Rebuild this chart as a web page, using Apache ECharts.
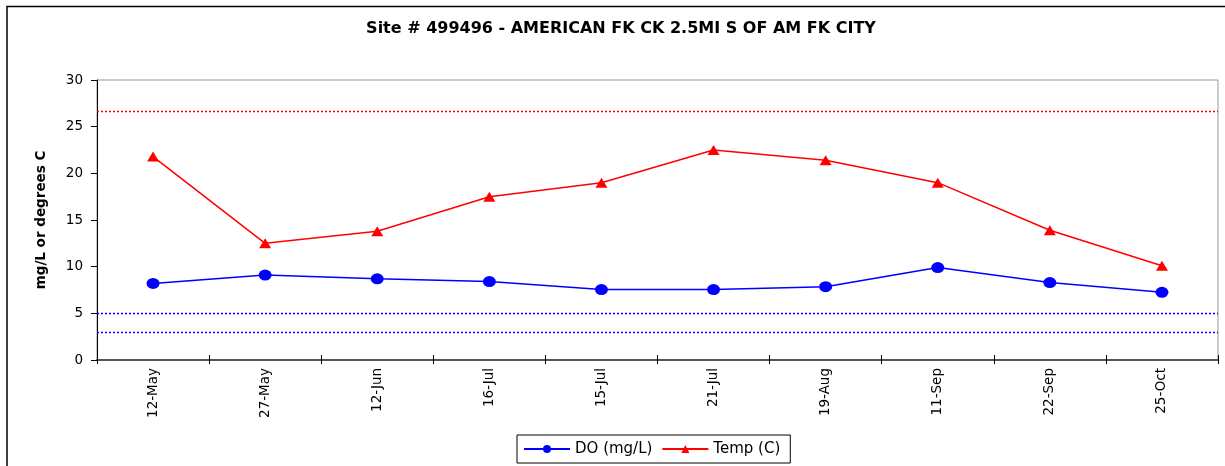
<!DOCTYPE html>
<html>
<head>
<meta charset="utf-8">
<script src="https://cdn.jsdelivr.net/npm/echarts@6/dist/echarts.min.js"></script>
<style>
html,body{margin:0;padding:0;background:#fff;}
#chart{width:1225px;height:466px;}
</style>
</head>
<body>
<div id="chart"></div>
<script>
const titleText = 'Site # 499496 - AMERICAN FK CK 2.5MI S OF AM FK CITY';
const yAxisName = 'mg/L or degrees C';
const categories = ['12-May','27-May','12-Jun','16-Jul','15-Jul','21-Jul','19-Aug','11-Sep','22-Sep','25-Oct'];
const doValues = [8.2, 9.1, 8.7, 8.4, 7.55, 7.55, 7.85, 9.9, 8.3, 7.25];
const tempValues = [21.8, 12.5, 13.8, 17.5, 19.0, 22.5, 21.4, 19.0, 13.9, 10.1];
const tempLimits = [26.67];
const doLimits = [5, 3];
const yTicks = [0, 5, 10, 15, 20, 25, 30];

const FONT = 'DejaVu Sans';
const ellipse = 'path://M-1,0A1,1,0,1,0,1,0A1,1,0,1,0,-1,0Z';
const BLUE = '#0000ff';
const RED = '#ff0000';

function limitLines(values, color) {
  return {
    silent: true,
    symbol: ['none', 'none'],
    label: {show: false},
    emphasis: {disabled: true},
    lineStyle: {color: color, type: [2, 2], width: 1.3, opacity: 1},
    data: values.map(v => ({yAxis: v}))
  };
}

const chart = echarts.init(document.getElementById('chart'), null, {renderer: 'canvas'});
chart.setOption({
  backgroundColor: '#fff',
  animation: false,
  title: {
    text: titleText,
    left: 621,
    top: 21,
    padding: 0,
    textAlign: 'center',
    textStyle: {fontFamily: FONT, fontSize: 16, fontWeight: 'bold', color: '#000'}
  },
  graphic: [{
    type: 'rect',
    silent: true,
    shape: {x: 7, y: 6.5, width: 2000, height: 1000},
    style: {fill: null, stroke: '#000', lineWidth: 1.5}
  }],
  legend: {
    left: 517,
    top: 435,
    orient: 'horizontal',
    padding: [6, 10, 6, 6],
    itemGap: 9,
    itemWidth: 46,
    itemHeight: 10,
    borderColor: '#000',
    borderWidth: 1,
    textStyle: {fontFamily: FONT, fontSize: 15, color: '#000', lineHeight: 16},
    data: ['DO (mg/L)', 'Temp (C)']
  },
  grid: {
    left: 97, right: 7, top: 80, bottom: 106,
    show: true, borderColor: '#999', borderWidth: 1, backgroundColor: 'transparent'
  },
  xAxis: [{
    type: 'category',
    data: categories,
    boundaryGap: true,
    axisLine: {show: true, lineStyle: {color: '#555', width: 2}},
    axisTick: {show: true, inside: false, length: 4, lineStyle: {color: '#000', width: 1}},
    axisLabel: {rotate: 90, margin: 8, fontFamily: FONT, fontSize: 13.5, color: '#000', interval: 0},
    splitLine: {show: false}
  }, {
    type: 'category',
    data: categories,
    boundaryGap: true,
    position: 'bottom',
    axisLine: {show: false},
    axisTick: {show: true, inside: true, length: 5, lineStyle: {color: '#000', width: 1}},
    axisLabel: {show: false},
    splitLine: {show: false}
  }],
  yAxis: {
    type: 'value',
    min: yTicks[0],
    max: yTicks[yTicks.length - 1],
    interval: 5,
    name: yAxisName,
    nameLocation: 'middle',
    nameGap: 49,
    nameTextStyle: {fontFamily: FONT, fontSize: 13.5, fontWeight: 'bold', color: '#000'},
    axisLine: {show: true, lineStyle: {color: '#000', width: 1}},
    axisTick: {show: true, inside: false, length: 6, lineStyle: {color: '#000'}},
    axisLabel: {margin: 14, fontFamily: FONT, fontSize: 13.5, color: '#000'},
    splitLine: {show: false}
  },
  series: [{
    name: 'DO (mg/L)',
    type: 'line',
    data: doValues,
    symbol: ellipse,
    symbolSize: [13, 11],
    itemStyle: {color: BLUE},
    lineStyle: {color: BLUE, width: 1.5},
    markLine: limitLines(doLimits, BLUE)
  }, {
    name: 'Temp (C)',
    type: 'line',
    data: tempValues,
    symbol: 'triangle',
    symbolSize: [12, 10],
    itemStyle: {color: RED},
    lineStyle: {color: RED, width: 1.5},
    markLine: limitLines(tempLimits, RED)
  }]
});
</script>
</body>
</html>
